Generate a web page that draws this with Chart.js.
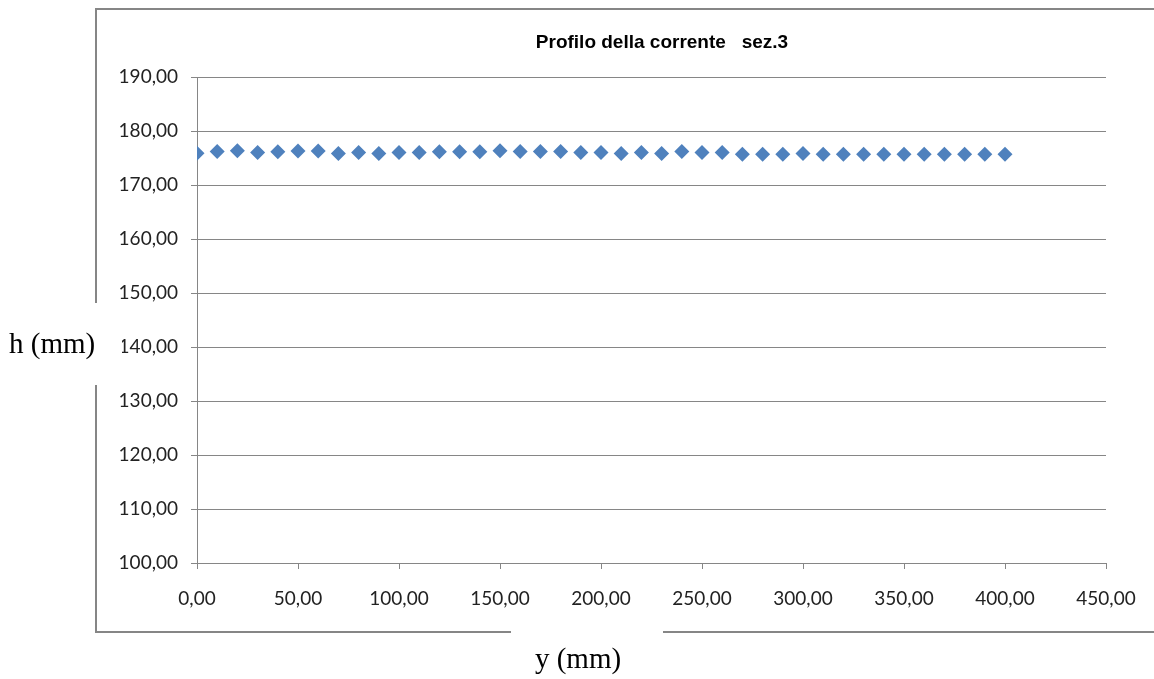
<!DOCTYPE html>
<html>
<head>
<meta charset="utf-8">
<script src="https://cdn.jsdelivr.net/npm/chart.js@4"></script>
<style>
  html, body { margin: 0; padding: 0; background: #fff; }
  #wrap { width: 1154px; height: 679px; }
</style>
</head>
<body>
<div id="wrap"><canvas id="chart" width="1154" height="679"></canvas></div>
<script>
// y (mm) positions across the section
const positions = [0, 10, 20, 30, 40, 50, 60, 70, 80, 90, 100, 110, 120, 130, 140, 150, 160, 170, 180, 190, 200,
  210, 220, 230, 240, 250, 260, 270, 280, 290, 300, 310, 320, 330, 340, 350, 360, 370, 380, 390, 400];
// h (mm) water level
const levels = [175.9, 176.2, 176.35, 176.0, 176.15, 176.3, 176.3, 175.85, 176.0, 175.85, 176.0, 176.0, 176.15, 176.15, 176.15,
  176.35, 176.2, 176.2, 176.2, 176.0, 176.0, 175.85, 176.0, 175.85, 176.2, 176.0, 176.0, 175.7, 175.7, 175.7,
  175.85, 175.7, 175.7, 175.7, 175.7, 175.7, 175.7, 175.7, 175.7, 175.7, 175.7];

const chartTitle = 'Profilo della corrente   sez.3';
const xTitle = 'y (mm)';
const yTitle = 'h (mm)';

const gridGray = '#868686';
const tickFont = { family: 'Lato, "Open Sans", sans-serif', size: 19 };

const fmt = v => Number(v).toFixed(2).replace('.', ',');

// outer frame, gaps for the axis titles, and the titles themselves
const framePlugin = {
  id: 'frame',
  beforeDraw(chart) {
    const ctx = chart.ctx;
    ctx.save();
    ctx.strokeStyle = gridGray;
    ctx.lineWidth = 2;
    ctx.beginPath();
    ctx.moveTo(1160, 9);
    ctx.lineTo(96, 9);
    ctx.lineTo(96, 632);
    ctx.lineTo(1160, 632);
    ctx.stroke();
    ctx.restore();
  },
  afterDraw(chart) {
    const ctx = chart.ctx;
    ctx.save();
    ctx.fillStyle = '#fff';
    ctx.fillRect(0, 303, 122, 82);
    ctx.fillRect(511, 620, 152, 59);

    ctx.fillStyle = '#000';
    ctx.font = '29px "Liberation Serif", "Times New Roman", serif';
    ctx.textBaseline = 'middle';
    ctx.textAlign = 'left';
    ctx.fillText(yTitle, 9, 345);
    ctx.textAlign = 'center';
    ctx.fillText(xTitle, 578, 660);

    ctx.font = 'bold 19px "Liberation Sans Narrow", "Liberation Sans", Arial, sans-serif';
    ctx.fillText(chartTitle, 662, 43);
    ctx.restore();
  }
};

new Chart(document.getElementById('chart'), {
  type: 'scatter',
  data: {
    datasets: [{
      data: positions.map((x, i) => ({ x: x, y: levels[i] })),
      pointStyle: 'rectRot',
      pointRadius: 7.5,
      pointHoverRadius: 7.5,
      pointBorderWidth: 0,
      backgroundColor: '#4F81BD',
      borderColor: '#4F81BD'
    }]
  },
  options: {
    responsive: false,
    animation: false,
    layout: { padding: { top: 77, right: 48, left: 0, bottom: 0 } },
    plugins: {
      legend: { display: false },
      tooltip: { enabled: false },
      title: { display: false }
    },
    scales: {
      x: {
        type: 'linear',
        min: 0,
        max: 450,
        afterFit(scale) { scale.height = 116; },
        ticks: {
          stepSize: 50,
          maxRotation: 0,
          padding: 18,
          color: '#222',
          font: tickFont,
          callback: fmt
        },
        grid: {
          drawOnChartArea: false,
          drawTicks: true,
          tickLength: 6,
          color: gridGray,
          lineWidth: 1
        },
        border: { display: true, color: gridGray, width: 1 }
      },
      y: {
        min: 100,
        max: 190,
        afterFit(scale) { scale.width = 197; },
        ticks: {
          stepSize: 10,
          padding: 13,
          color: '#222',
          font: tickFont,
          callback: fmt
        },
        grid: {
          drawTicks: true,
          tickLength: 6,
          color: gridGray,
          lineWidth: 1
        },
        border: { display: true, color: gridGray, width: 1 }
      }
    }
  },
  plugins: [framePlugin]
});
</script>
</body>
</html>
